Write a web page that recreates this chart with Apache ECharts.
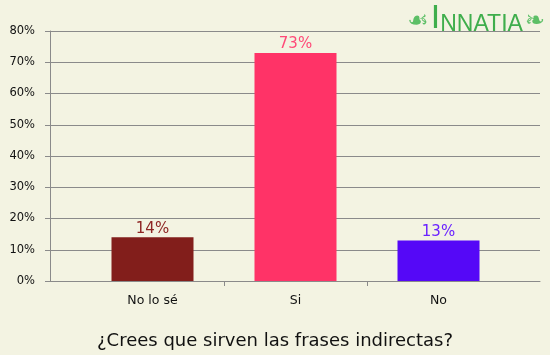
<!DOCTYPE html>
<html>
<head>
<meta charset="utf-8">
<script src="https://cdn.jsdelivr.net/npm/echarts@6/dist/echarts.min.js"></script>
<style>
  html, body { margin: 0; padding: 0; background: #f3f3e2; }
  #chart { width: 550px; height: 355px; }
</style>
</head>
<body>
<div id="chart"></div>
<script>
// datos de la encuesta
const categories = ['No lo sé', 'Si', 'No'];
const values = [14, 73, 13];
const barColors = ['#821e1b', '#ff3367', '#5508f7'];
const labelColors = ['#8e2624', '#ff4a78', '#6a22ff'];
const titleText = '¿Crees que sirven las frases indirectas?';

const font = 'DejaVu Sans';
const gray = '#8a8a8a';

const chart = echarts.init(document.getElementById('chart'));

const option = {
  backgroundColor: '#f3f3e2',
  animation: false,
  textStyle: { fontFamily: font },
  title: {
    text: titleText,
    left: 'center',
    top: 327,
    textStyle: { fontSize: 18, fontWeight: 'normal', color: '#111', fontFamily: font }
  },
  grid: [
    // fondo: ejes y líneas de la cuadrícula
    { left: 50, right: 10, top: 31, bottom: 74, outerBoundsMode: 'none' },
    // barras (4 huecos, el último queda fuera del lienzo)
    { left: 81, width: 572, top: 31, bottom: 74, outerBoundsMode: 'none' }
  ],
  xAxis: [
    {
      gridIndex: 0, type: 'value', min: 0, max: 1,
      axisLine: { show: true, lineStyle: { color: gray } },
      axisTick: { show: false }, axisLabel: { show: false }, splitLine: { show: false }
    },
    {
      gridIndex: 1, type: 'category', data: categories, max: 3,
      axisLine: { show: false },
      axisTick: {
        show: true, length: 5, lineStyle: { color: gray },
        interval: (idx) => idx > 0 && idx < categories.length
      },
      axisLabel: {
        color: '#111', fontSize: 12.5, margin: 13,
        interval: (idx) => idx < categories.length,
        formatter: (v) => v == null ? '' : v
      },
      splitLine: { show: false }
    }
  ],
  yAxis: [
    {
      gridIndex: 0, type: 'value', min: 0, max: 80, interval: 10,
      axisLine: { show: true, lineStyle: { color: gray } },
      axisTick: { show: true, length: 5, lineStyle: { color: gray } },
      axisLabel: { formatter: '{value}%', color: '#111', fontSize: 11.5, margin: 15 },
      splitLine: { show: true, lineStyle: { color: gray, width: 1 } }
    },
    {
      gridIndex: 1, type: 'value', min: 0, max: 80, show: false
    }
  ],
  series: [{
    type: 'bar',
    xAxisIndex: 1,
    yAxisIndex: 1,
    barWidth: 82,
    data: values.map((v, i) => ({
      value: v,
      itemStyle: { color: barColors[i] },
      label: { color: labelColors[i] }
    })),
    label: {
      show: true, position: 'top', distance: 1,
      fontSize: 15, formatter: '{c}%'
    }
  }],
  graphic: [{
    type: 'text',
    right: 5,
    top: 2,
    z: 100,
    style: {
      text: '{o|☙}{big|I}{s|NNATIA}{o|❧}',
      rich: {
        o: { fontSize: 24, fill: '#5cbf66', fontFamily: font, verticalAlign: 'bottom', padding: [0, 2, 2, 2] },
        big: { fontSize: 34, fill: '#3fae4c', fontFamily: 'Liberation Sans', verticalAlign: 'bottom' },
        s: { fontSize: 23, fill: '#3fae4c', fontFamily: 'Liberation Sans', verticalAlign: 'bottom' }
      }
    }
  }]
};

chart.setOption(option);
window.addEventListener('resize', function () {
  chart.resize();
});
</script>
</body>
</html>
